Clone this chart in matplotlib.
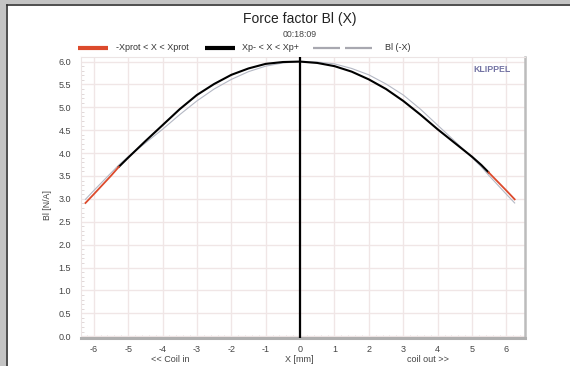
import matplotlib
matplotlib.use("Agg")
import matplotlib.pyplot as plt
from matplotlib.lines import Line2D
from matplotlib.patches import Rectangle
from matplotlib.ticker import MultipleLocator, FormatStrFormatter

plt.rcParams['font.family'] = ['Liberation Sans', 'DejaVu Sans']

# displacement X [mm] and force factor Bl [N/A]
x_mm = [-6.24, -6.0, -5.48, -5.27, -5.0, -4.5, -4.0, -3.5, -3.0, -2.5, -2.0, -1.5,
        -1.0, -0.5, 0.0, 0.5, 1.0, 1.5, 2.0, 2.5, 3.0, 3.5, 4.0, 4.5, 5.0,
        5.27, 5.48, 6.0, 6.24]
bl = [2.91, 3.10, 3.52, 3.70, 3.90, 4.26, 4.61, 4.96, 5.27, 5.51, 5.71, 5.85,
      5.95, 5.99, 6.00, 5.97, 5.90, 5.78, 5.61, 5.40, 5.14, 4.84, 4.52, 4.22, 3.92,
      3.74, 3.58, 3.18, 2.99]
# Bl(-X), the mirrored curve
bl_minus_x = [2.99, 3.18, 3.58, 3.74, 3.92, 4.22, 4.52, 4.84, 5.14, 5.40, 5.61, 5.78,
              5.90, 5.97, 6.00, 5.99, 5.95, 5.85, 5.71, 5.51, 5.27, 4.96, 4.61, 4.26, 3.90,
              3.70, 3.52, 3.10, 2.91]
xprot_minus = -5.27
xprot_plus = 5.48

x_ticks = [-6, -5, -4, -3, -2, -1, 0, 1, 2, 3, 4, 5, 6]

W, H = 570, 366
fig = plt.figure(figsize=(W / 100, H / 100), dpi=100)
fig.patch.set_facecolor('white')

# window frame: gray strip left and top, dark line inside
fig.patches.append(Rectangle((0, 0), 6 / W, 1, transform=fig.transFigure,
                             facecolor='#c4c4c4', edgecolor='none', zorder=0))
fig.patches.append(Rectangle((0, 1 - 4 / H), 1, 4 / H, transform=fig.transFigure,
                             facecolor='#c4c4c4', edgecolor='none', zorder=0))
fig.lines.append(Line2D([6.5 / W, 6.5 / W], [0, 1 - 4.5 / H], transform=fig.transFigure,
                        color='#303030', lw=1.2))
fig.lines.append(Line2D([6.5 / W, 1], [1 - 4.5 / H, 1 - 4.5 / H], transform=fig.transFigure,
                        color='#303030', lw=1.2))

left, right, top, bottom = 81, 525, 57, 338
ax = fig.add_axes([left / W, 1 - bottom / H, (right - left) / W, (bottom - top) / H])
ax.set_xlim(-6.37, 6.54)
ax.set_ylim(-0.04, 6.1)

ax.grid(True, which='major', color='#f0e6e6', lw=1.0)
ax.set_axisbelow(True)

ax.xaxis.set_major_locator(MultipleLocator(1))
ax.xaxis.set_minor_locator(MultipleLocator(0.2))
ax.yaxis.set_major_locator(MultipleLocator(0.5))
ax.yaxis.set_minor_locator(MultipleLocator(0.1))
ax.yaxis.set_major_formatter(FormatStrFormatter('%.1f'))
ax.set_xticks(x_ticks)
ax.set_xticklabels([str(t) for t in x_ticks])

ax.tick_params(which='major', length=0, labelsize=6.5, labelcolor='#444444')
ax.tick_params(axis='x', which='major', pad=5)
ax.tick_params(axis='y', which='major', pad=7)
ax.tick_params(which='minor', direction='in', length=2.5, width=0.6, color='#dcd2d2')

for side in ['left', 'top']:
    ax.spines[side].set_color('#ece4e4')
    ax.spines[side].set_linewidth(0.8)
ax.spines['bottom'].set_color('#b0b0b0')
ax.spines['bottom'].set_linewidth(2.2)
ax.spines['right'].set_color('#bcbcbc')
ax.spines['right'].set_linewidth(1.8)

# curves
ax.plot(x_mm, bl_minus_x, color='#b4b8c4', lw=0.8, zorder=2)
xi = [x for x in x_mm if xprot_minus <= x <= xprot_plus]
yi = [b for x, b in zip(x_mm, bl) if xprot_minus <= x <= xprot_plus]
ax.plot(xi, yi, color='black', lw=1.5, zorder=3)
xl = [x for x in x_mm if x <= xprot_minus]
yl = [b for x, b in zip(x_mm, bl) if x <= xprot_minus]
xr = [x for x in x_mm if x >= xprot_plus]
yr = [b for x, b in zip(x_mm, bl) if x >= xprot_plus]
ax.plot(xl, yl, color='#dc4a2c', lw=1.3, zorder=3)
ax.plot(xr, yr, color='#dc4a2c', lw=1.3, zorder=3)
ax.axvline(0, color='black', lw=1.6, zorder=4)


def ft(px, py, s, **kw):
    fig.text(px / W, 1 - py / H, s, **kw)


ft(492, 69, 'KLIPPEL', fontsize=6.3, color='#5c5c94', fontweight='bold',
   ha='center', va='center', alpha=0.85)

# title and subtitle
ft(300, 19.5, 'Force factor Bl (X)', fontsize=10, color='#222222', ha='center', va='center')
ft(300, 34.5, '00:18:09', fontsize=6.3, color='#444444', ha='center', va='center')

# legend
ly = 1 - 48 / H


def lseg(x0, x1, **kw):
    fig.lines.append(Line2D([x0 / W, x1 / W], [ly, ly], transform=fig.transFigure, **kw))


lseg(78, 108, color='#dc4a2c', lw=3.0, solid_capstyle='butt')
ft(116, 48, '-Xprot < X < Xprot', fontsize=6.5, color='#333333', ha='left', va='center')
lseg(205, 235, color='black', lw=3.0, solid_capstyle='butt')
ft(242, 48, 'Xp- < X < Xp+', fontsize=6.5, color='#333333', ha='left', va='center')
lseg(313, 340, color='#a8a8b0', lw=1.6, solid_capstyle='butt')
lseg(345, 372, color='#a8a8b0', lw=1.6, solid_capstyle='butt')
ft(385, 48, 'Bl (-X)', fontsize=6.5, color='#333333', ha='left', va='center')

# axis labels
ft(48, 205, 'Bl [N/A]', fontsize=6.3, color='#444444', rotation=90, ha='center', va='center')
ft(170, 359, '<< Coil in', fontsize=6.5, color='#444444', ha='center', va='center')
ft(299, 359, 'X [mm]', fontsize=6.5, color='#444444', ha='center', va='center')
ft(428, 359, 'coil out >>', fontsize=6.5, color='#444444', ha='center', va='center')

fig.savefig('out.png', dpi=100)
